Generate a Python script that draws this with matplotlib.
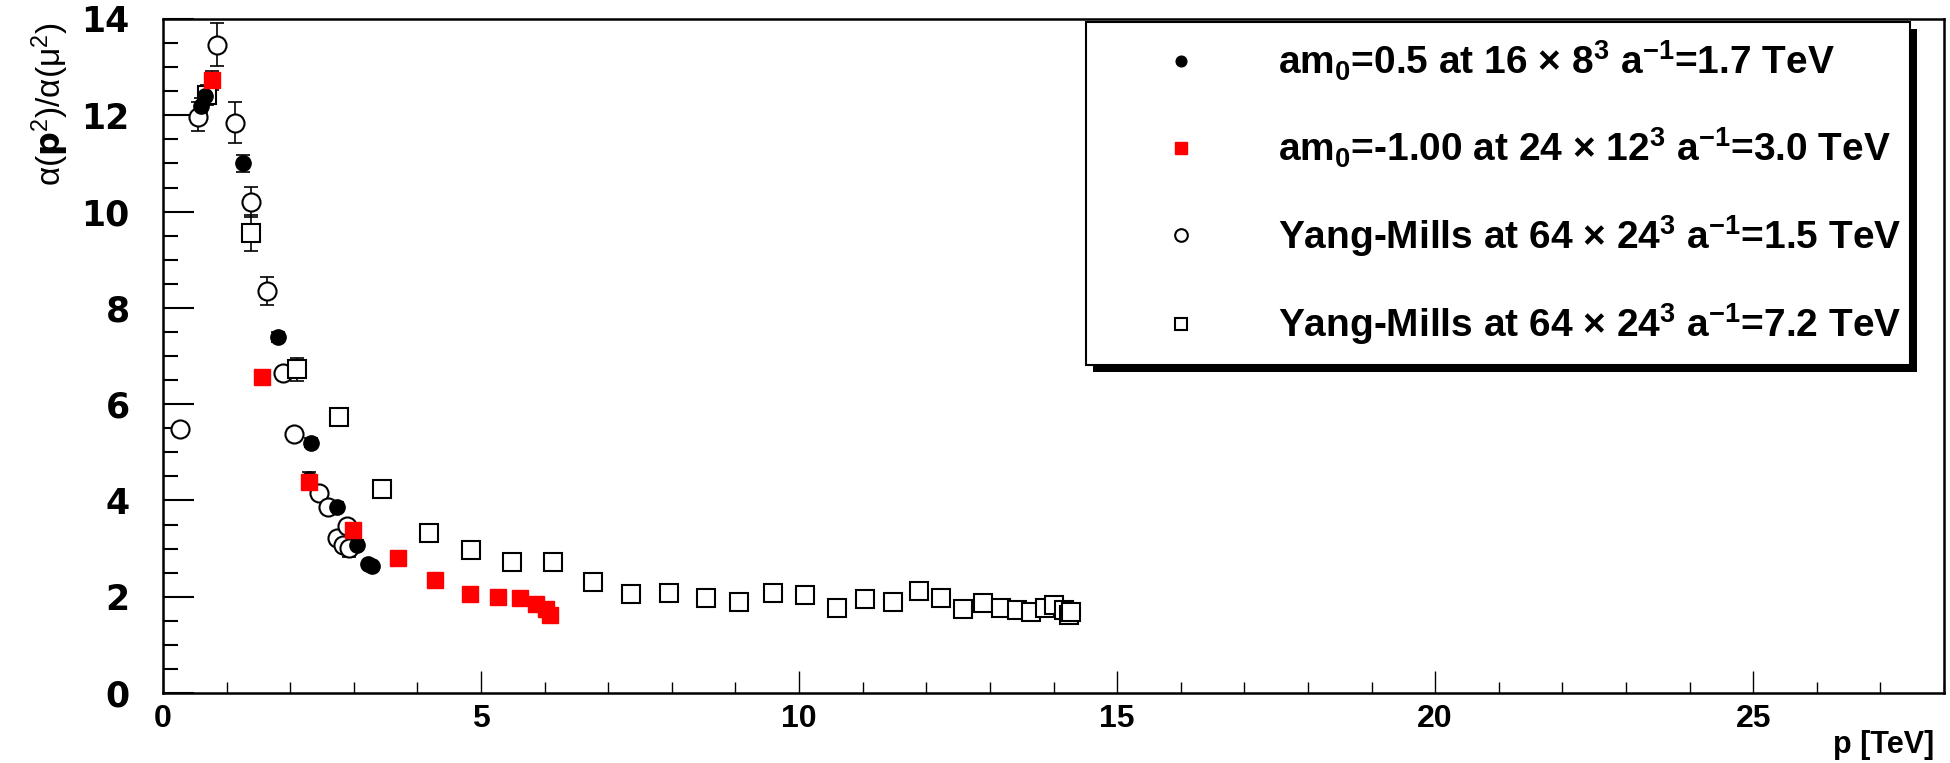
import numpy as np
import matplotlib.pyplot as plt
import matplotlib.patheffects as pe
from matplotlib.ticker import MultipleLocator

plt.rcParams['mathtext.default'] = 'regular'

# am0=0.5 at 16x8^3
p_a = [0.60, 0.66, 1.25, 1.81, 2.30, 2.33, 2.74, 3.05, 3.22, 3.28]
r_a = [12.20, 12.40, 11.00, 7.40, 4.45, 5.20, 3.86, 3.07, 2.68, 2.64]
e_a = [0.15, 0.15, 0.18, 0.10, 0.15, 0.10, 0.10, 0.10, 0.05, 0.05]

# am0=-1.00 at 24x12^3
p_b = [0.77, 1.55, 2.30, 2.99, 3.70, 4.28, 4.83, 5.27, 5.62, 5.86, 6.02, 6.09]
r_b = [12.73, 6.57, 4.39, 3.39, 2.80, 2.35, 2.05, 2.00, 1.97, 1.85, 1.74, 1.63]
e_b = [0.20, 0.05, 0.10, 0.05, 0.03, 0.03, 0.03, 0.03, 0.03, 0.03, 0.03, 0.03]

# Yang-Mills a^-1=1.5 TeV
p_c = [0.27, 0.555, 0.844, 1.13, 1.38, 1.63, 1.89, 2.06, 2.45, 2.60, 2.73, 2.83, 2.89, 2.92]
r_c = [5.48, 11.97, 13.47, 11.85, 10.20, 8.35, 6.64, 5.37, 4.15, 3.87, 3.21, 3.07, 3.47, 3.02]
e_c = [0.05, 0.30, 0.45, 0.42, 0.32, 0.30, 0.12, 0.12, 0.08, 0.08, 0.10, 0.10, 0.10, 0.20]

# Yang-Mills a^-1=7.2 TeV
p_d = [0.69, 1.38, 2.11, 2.77, 3.45, 4.18, 4.85, 5.48, 6.13, 6.76, 7.36, 7.95, 8.53, 9.05,
       9.59, 10.09, 10.60, 11.03, 11.47, 11.88, 12.23, 12.57, 12.89, 13.17, 13.42, 13.65,
       13.86, 14.00, 14.17, 14.24, 14.27]
r_d = [12.42, 9.55, 6.72, 5.74, 4.23, 3.32, 2.98, 2.73, 2.73, 2.31, 2.06, 2.07, 1.97, 1.90,
       2.07, 2.04, 1.76, 1.95, 1.90, 2.12, 1.98, 1.74, 1.86, 1.77, 1.72, 1.69,
       1.76, 1.83, 1.72, 1.62, 1.68]
e_d = [0.20, 0.37, 0.24, 0.12] + [0.04] * 27

labels = ['am$_0$=0.5 at 16 × 8$^3$ a$^{-1}$=1.7 TeV',
          'am$_0$=-1.00 at 24 × 12$^3$ a$^{-1}$=3.0 TeV',
          'Yang-Mills at 64 × 24$^3$ a$^{-1}$=1.5 TeV',
          'Yang-Mills at 64 × 24$^3$ a$^{-1}$=7.2 TeV']

narrow = ['Liberation Sans Narrow', 'Liberation Sans', 'DejaVu Sans']

fig = plt.figure(figsize=(19.5, 7.63), dpi=100)
ax = fig.add_axes([163/1950, 1-693/763, (1944-163)/1950, (693-19)/763])

eb = dict(fmt='none', ecolor='black', elinewidth=1.2, capsize=5, capthick=1.2)
ax.errorbar(p_c, r_c, yerr=e_c, **eb)
ax.errorbar(p_d, r_d, yerr=e_d, **eb)
ax.errorbar(p_a, r_a, yerr=e_a, **eb)
ax.errorbar(p_b, r_b, yerr=e_b, **eb)

ax.plot(p_a, r_a, 'o', color='black', ms=11, label=labels[0], zorder=4)
ax.plot(p_b, r_b, 's', color='red', mec='red', ms=11.5, label=labels[1], zorder=4)
ax.plot(p_c, r_c, 'o', mfc='white', mec='black', mew=1.5, ms=13, label=labels[2], zorder=3)
ax.plot(p_d, r_d, 's', mfc='white', mec='black', mew=1.5, ms=13, label=labels[3], zorder=3)

ax.set_xlim(0, 28)
ax.set_ylim(0, 14)
ax.xaxis.set_major_locator(MultipleLocator(5))
ax.xaxis.set_minor_locator(MultipleLocator(1))
ax.yaxis.set_major_locator(MultipleLocator(2))
ax.yaxis.set_minor_locator(MultipleLocator(0.5))
ax.tick_params(axis='x', which='major', direction='in', length=16, width=1, pad=8)
ax.tick_params(axis='x', which='minor', direction='in', length=8, width=1)
ax.tick_params(axis='y', which='major', direction='in', length=22, width=1.5, pad=24)
ax.tick_params(axis='y', which='minor', direction='in', length=11, width=1.5)
for s in ax.spines.values():
    s.set_linewidth(1.8)

for t in ax.get_xticklabels():
    t.set_family(narrow)
    t.set_fontweight('bold')
    t.set_fontsize(23)
for t in ax.get_yticklabels():
    t.set_family(['DejaVu Sans'])
    t.set_fontweight('bold')
    t.set_fontsize(25)

fig.text(50/1950, 1-22/763, r'$\alpha$($\mathbf{p}^2$)/$\alpha$($\mu^2$)',
         rotation=90, ha='center', va='top', fontsize=24, family=['Liberation Sans', 'DejaVu Sans'])
fig.text(1934/1950, 1-745/763, 'p [TeV]', ha='right', va='center',
         fontsize=22, fontweight='bold', family=narrow)

leg = ax.legend(loc='upper left', bbox_to_anchor=(0.518, 0.996, 0.463, 0.0), mode='expand',
                borderaxespad=0, borderpad=0.45, handlelength=4.0, handletextpad=0.5,
                labelspacing=1.1, markerscale=0.7, fancybox=False, framealpha=1,
                prop={'family': narrow, 'weight': 'bold', 'size': 28})
frame = leg.get_frame()
frame.set_edgecolor('black')
frame.set_linewidth(1.5)
frame.set_path_effects([pe.SimplePatchShadow(offset=(5, -5), shadow_rgbFace='black', alpha=1),
                        pe.Normal()])

plt.savefig('out.png', dpi=100)
